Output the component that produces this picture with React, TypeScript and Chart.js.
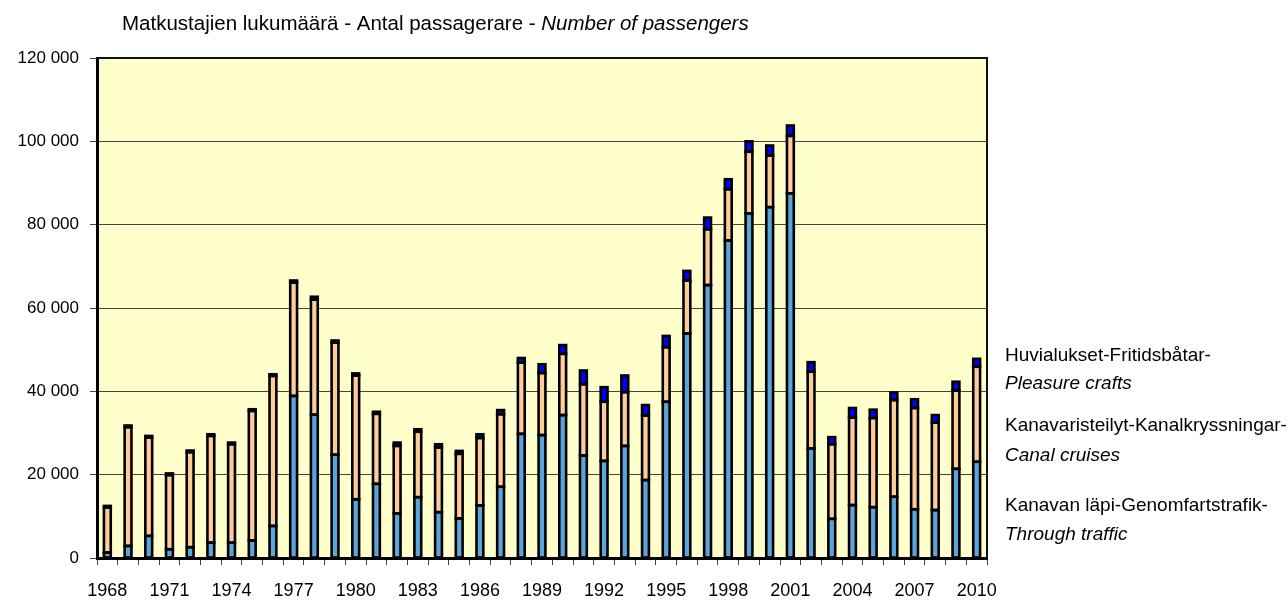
import { useEffect, useRef } from "react";
import { Chart, registerables } from "chart.js";

Chart.register(...registerables);

const years = [
  "1968", "1969", "1970", "1971", "1972", "1973", "1974", "1975", "1976", "1977",
  "1978", "1979", "1980", "1981", "1982", "1983", "1984", "1985", "1986", "1987",
  "1988", "1989", "1990", "1991", "1992", "1993", "1994", "1995", "1996", "1997",
  "1998", "1999", "2000", "2001", "2002", "2003", "2004", "2005", "2006", "2007",
  "2008", "2009", "2010",
];

// Kanavan läpi - Genomfartstrafik - Through traffic
const throughTraffic = [
  1300, 2900, 5300, 2100, 2600, 3700, 3700, 4200, 7700, 38900,
  34400, 24800, 14100, 17800, 10700, 14600, 11000, 9500, 12600, 17100,
  29800, 29500, 34300, 24600, 23300, 26900, 18700, 37500, 53900, 65500,
  76200, 82700, 84200, 87500, 26300, 9400, 12700, 12200, 14700, 11700,
  11500, 21400, 23100,
];

// Kanavaristeilyt - Kanalkryssningar - Canal cruises
const canalCruises = [
  10800, 28500, 23600, 17800, 22800, 25600, 23600, 31100, 36000, 27200,
  27600, 26900, 29700, 16800, 16200, 15700, 15500, 15500, 16200, 17400,
  17100, 14900, 14700, 17100, 14200, 12900, 15500, 13100, 12700, 13400,
  12300, 14800, 12400, 13800, 18400, 17900, 21000, 21400, 23200, 24300,
  21000, 18800, 22800,
];

// Huvialukset - Fritidsbåtar - Pleasure crafts
const pleasureCrafts = [
  400, 400, 400, 400, 400, 400, 400, 400, 400, 500,
  700, 500, 500, 500, 800, 600, 800, 700, 900, 1000,
  1100, 2100, 2100, 3300, 3500, 4000, 2500, 2700, 2300, 2800,
  2400, 2500, 2400, 2500, 2300, 1700, 2300, 2000, 1800, 2100,
  1800, 2100, 1900,
];

const seriesLabels = [
  "Kanavan läpi-Genomfartstrafik-",
  "Kanavaristeilyt-Kanalkryssningar-",
  "Huvialukset-Fritidsbåtar-",
];
const legendLines = [
  ["Huvialukset-Fritidsbåtar-", "Pleasure crafts"],
  ["Kanavaristeilyt-Kanalkryssningar-", "Canal cruises"],
  ["Kanavan läpi-Genomfartstrafik-", "Through traffic"],
];
const titleMain = "Matkustajien lukumäärä - Antal passagerare - ";
const titleItalic = "Number of passengers";

const FONT = '"Liberation Sans", Arial, sans-serif';

function fmt(v: number): string {
  return String(v).replace(/\B(?=(\d{3})+(?!\d))/g, " ");
}

const decorPlugin = {
  id: "decor",
  beforeDraw(chart: any) {
    const { ctx, chartArea: a } = chart;
    ctx.save();
    ctx.fillStyle = "#FFFFCC";
    ctx.fillRect(a.left, a.top, a.right - a.left, a.bottom - a.top);
    ctx.restore();
  },
  afterDatasetsDraw(chart: any) {
    const ctx = chart.ctx;
    ctx.save();
    ctx.strokeStyle = "#000";
    ctx.lineWidth = 2.6;
    ctx.lineJoin = "miter";
    chart.data.datasets.forEach((_d: any, di: number) => {
      const meta = chart.getDatasetMeta(di);
      meta.data.forEach((el: any) => {
        const p = el.getProps(["x", "y", "base", "width"], true);
        const top = Math.min(p.y, p.base);
        const h = Math.abs(p.base - p.y);
        ctx.strokeRect(p.x - p.width / 2, top, p.width, h);
      });
    });
    ctx.restore();
  },
  afterDraw(chart: any) {
    const { ctx, chartArea: a } = chart;
    ctx.save();
    ctx.strokeStyle = "#111";
    ctx.lineWidth = 2;
    ctx.beginPath();
    ctx.moveTo(a.left, a.top);
    ctx.lineTo(a.right, a.top);
    ctx.lineTo(a.right, a.bottom);
    ctx.stroke();

    ctx.fillStyle = "#000";
    ctx.textBaseline = "middle";
    ctx.textAlign = "left";
    ctx.font = `20.5px ${FONT}`;
    const w = ctx.measureText(titleMain).width;
    ctx.fillText(titleMain, 122, 24);
    ctx.font = `italic 20.5px ${FONT}`;
    ctx.fillText(titleItalic, 122 + w, 24);

    const ys = [[356, 384], [426, 456], [506, 535]];
    legendLines.forEach((lines, i) => {
      ctx.font = `19px ${FONT}`;
      ctx.fillText(lines[0], 1005, ys[i][0]);
      ctx.font = `italic 19px ${FONT}`;
      ctx.fillText(lines[1], 1005, ys[i][1]);
    });
    ctx.restore();
  },
};

export default function App() {
  const ref = useRef<HTMLCanvasElement | null>(null);

  useEffect(() => {
    if (!ref.current) return;
    const common = {
      borderWidth: 0,
      barPercentage: 0.33,
      categoryPercentage: 1,
    };
    const chart = new Chart(ref.current, {
      type: "bar",
      data: {
        labels: years,
        datasets: [
          { label: seriesLabels[0], data: throughTraffic, backgroundColor: "#5AA5DC", ...common },
          { label: seriesLabels[1], data: canalCruises, backgroundColor: "#FFCC99", ...common },
          { label: seriesLabels[2], data: pleasureCrafts, backgroundColor: "#0000FF", ...common },
        ],
      },
      options: {
        responsive: false,
        animation: false,
        layout: { padding: { top: 58, right: 301, bottom: 0, left: 0 } },
        plugins: {
          legend: { display: false },
          title: { display: false },
          tooltip: { enabled: false },
        },
        scales: {
          x: {
            stacked: true,
            afterFit: (s: any) => { s.height = 45; },
            grid: {
              display: true,
              drawOnChartArea: false,
              drawTicks: true,
              tickLength: 7,
              tickColor: "#444",
              offset: true,
            },
            border: { display: true, color: "#000", width: 3 },
            ticks: {
              autoSkip: false,
              maxRotation: 0,
              minRotation: 0,
              padding: 15,
              color: "#000",
              font: { family: FONT, size: 18 },
              callback: (_v: any, i: number) => (i % 3 === 0 ? years[i] : ""),
            },
          },
          y: {
            stacked: true,
            min: 0,
            max: 120000,
            afterFit: (s: any) => { s.width = 97; },
            grid: { color: "#444", lineWidth: 1, tickLength: 7, tickColor: "#444" },
            border: { display: true, color: "#000", width: 3 },
            ticks: {
              stepSize: 20000,
              padding: 11,
              color: "#000",
              font: { family: FONT, size: 17 },
              callback: (v: any) => fmt(Number(v)),
            },
          },
        },
      },
      plugins: [decorPlugin],
    });
    return () => chart.destroy();
  }, []);

  return (
    <div style={{ position: "fixed", left: 0, top: 0, width: 1288, height: 603, background: "#fff" }}>
      <canvas ref={ref} width={1288} height={603} />
    </div>
  );
}
